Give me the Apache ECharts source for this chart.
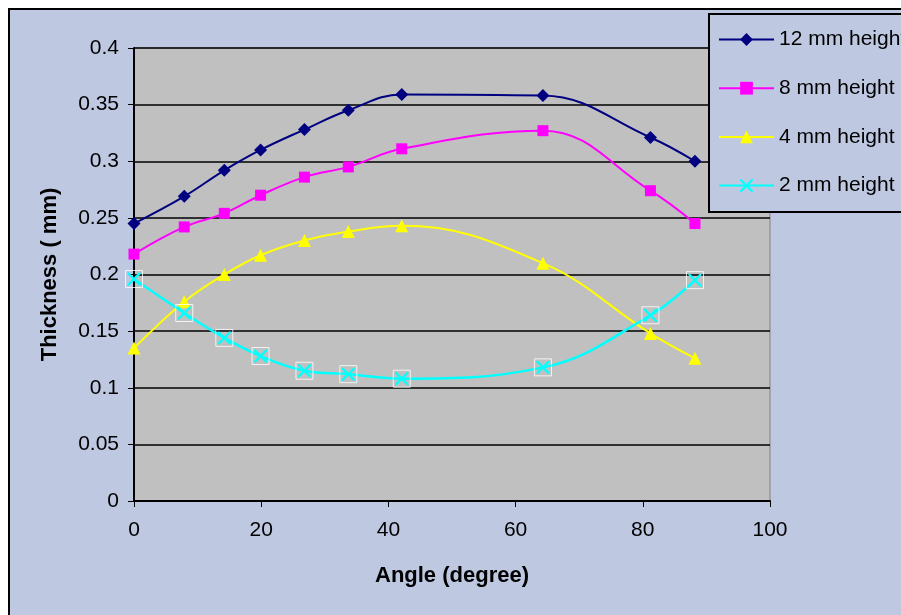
<!DOCTYPE html>
<html>
<head>
<meta charset="utf-8">
<script src="https://cdn.jsdelivr.net/npm/echarts@6/dist/echarts.min.js"></script>
<style>
  html, body { margin: 0; padding: 0; background: #fff; }
  #wrap { position: relative; width: 901px; height: 615px; overflow: hidden; }
  #frame {
    position: absolute; left: 8px; top: 8px; width: 1000px; height: 1000px;
    background: #bfc8e1; border-left: 2px solid #000; border-top: 2px solid #000;
  }
  #main { position: absolute; left: 0; top: 0; width: 901px; height: 615px; }
</style>
</head>
<body>
<div id="wrap">
  <div id="frame"></div>
  <div id="main"></div>
</div>
<script>
// angle (degree) of each measuring point
var angles = [0, 7.9, 14.2, 19.9, 26.8, 33.7, 42.1, 64.3, 81.2, 88.2];
// thickness (mm) per height
var h12 = [0.245, 0.269, 0.292, 0.310, 0.328, 0.345, 0.359, 0.358, 0.321, 0.300];
var h8 = [0.218, 0.242, 0.254, 0.270, 0.286, 0.295, 0.311, 0.327, 0.274, 0.245];
var h4 = [0.135, 0.176, 0.200, 0.217, 0.230, 0.238, 0.243, 0.210, 0.148, 0.126];
var h2 = [0.196, 0.166, 0.144, 0.128, 0.115, 0.112, 0.108, 0.118, 0.164, 0.195];
var seriesNames = ["12 mm height", "8 mm height", "4 mm height", "2 mm height"];

function pairs(values) {
  return angles.map(function (a, i) { return [a, values[i]]; });
}

var crossPath = "path://M0,0 L2.5,0 L10,7.5 L17.5,0 L20,0 L20,2.5 L12.5,10 L20,17.5 L20,20 L17.5,20 L10,12.5 L2.5,20 L0,20 L0,17.5 L7.5,10 L0,2.5 Z";
var font = "Liberation Sans, Arial, sans-serif";

var chart = echarts.init(document.getElementById("main"));
var option = {
  backgroundColor: "transparent",
  animation: false,
  textStyle: { fontFamily: font },
  grid: {
    left: 134,
    top: 48,
    right: 131,
    bottom: 114,
    show: true,
    backgroundColor: "#c0c0c0",
    borderColor: "#808080",
    borderWidth: 1,
  },
  legend: {
    orient: "vertical",
    left: 709,
    top: 14,
    padding: [15, 20, 16, 9],
    itemWidth: 55,
    itemHeight: 16,
    itemGap: 27.7,
    backgroundColor: "#bfc8e1",
    borderColor: "#000",
    borderWidth: 2,
    borderRadius: 0,
    textStyle: { fontSize: 21, color: "#000", fontFamily: font },
    data: seriesNames,
  },
  xAxis: {
    type: "value",
    min: 0,
    max: 100,
    interval: 20,
    name: "Angle (degree)",
    nameLocation: "middle",
    nameGap: 64,
    nameTextStyle: { fontSize: 22, fontWeight: "bold", color: "#000" },
    axisLine: { lineStyle: { color: "#000", width: 2 } },
    axisTick: { length: 6, lineStyle: { color: "#000", width: 1 } },
    axisLabel: { fontSize: 21, color: "#000", margin: 19 },
    splitLine: { show: false },
  },
  yAxis: {
    type: "value",
    min: 0,
    max: 0.4,
    interval: 0.05,
    name: "Thickness ( mm)",
    nameLocation: "middle",
    nameGap: 73,
    nameTextStyle: { fontSize: 22, fontWeight: "bold", color: "#000" },
    axisLine: { show: true, lineStyle: { color: "#000", width: 2 } },
    axisTick: { show: true, length: 6, lineStyle: { color: "#000", width: 1 } },
    axisLabel: { fontSize: 21, color: "#000", margin: 15 },
    splitLine: { lineStyle: { color: "#000", width: 1.5 } },
  },
  series: [
    {
      name: seriesNames[0],
      type: "line",
      smooth: 0.4,
      data: pairs(h12),
      symbol: "diamond",
      symbolSize: 13,
      itemStyle: { color: "#000080" },
      lineStyle: { color: "#000080", width: 2 },
      z: 4,
    },
    {
      name: seriesNames[1],
      type: "line",
      smooth: 0.4,
      data: pairs(h8),
      symbol: "rect",
      symbolSize: 11,
      itemStyle: { color: "#ff00ff" },
      lineStyle: { color: "#ff00ff", width: 2 },
      z: 3,
    },
    {
      name: seriesNames[2],
      type: "line",
      smooth: 0.4,
      data: pairs(h4),
      symbol: "triangle",
      symbolSize: 13,
      itemStyle: { color: "#ffff00" },
      lineStyle: { color: "#ffff00", width: 2 },
      z: 2,
    },
    {
      name: seriesNames[3],
      type: "line",
      smooth: 0.4,
      data: pairs(h2),
      symbol: crossPath,
      symbolSize: 13,
      itemStyle: { color: "#00ffff" },
      lineStyle: { color: "#00ffff", width: 2.5 },
      z: 2,
    },
    {
      // white square frame around the 2 mm markers
      type: "scatter",
      data: pairs(h2),
      symbol: "rect",
      symbolSize: 17,
      itemStyle: { color: "rgba(0,0,0,0)", borderColor: "#ffffff", borderWidth: 1 },
      silent: true,
      z: 2,
    },
  ],
};
option && chart.setOption(option);
</script>
</body>
</html>
